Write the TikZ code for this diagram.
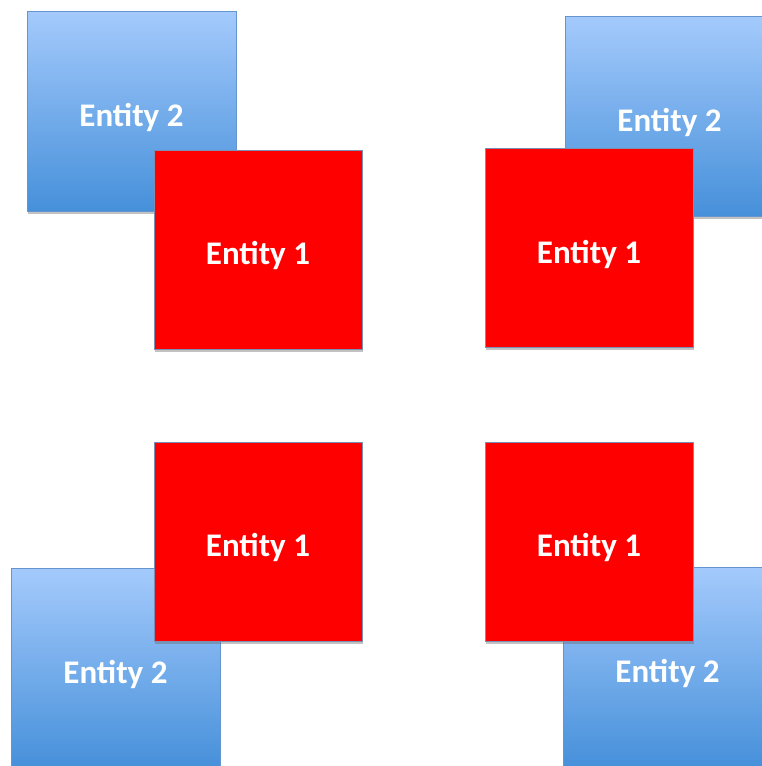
\documentclass[tikz,border=0pt]{standalone}
\usepackage{fontspec}
\setmainfont{Carlito}
\usetikzlibrary{shadows}
\definecolor{bluetop}{HTML}{A4CAFC}
\definecolor{bluebot}{HTML}{4690DA}
\definecolor{blueedge}{HTML}{6495CF}
\definecolor{rededge}{HTML}{7D8DB3}
\tikzset{
  entity/.style={rectangle, inner sep=0pt, font=\bfseries\fontsize{33}{40}\selectfont, text=white,
    text height=38pt, text depth=8pt,
    drop shadow={shadow xshift=0.6pt, shadow yshift=-2.5pt, opacity=0.4, fill=black!60}},
  second/.style={entity, minimum width=209pt, minimum height=200pt,
    draw=blueedge, line width=0.8pt, top color=bluetop, bottom color=bluebot},
  first/.style={entity, minimum width=208pt, minimum height=199pt,
    draw=rededge, line width=0.8pt, fill=red},
}
\begin{document}
\begin{tikzpicture}[x=1pt, y=-1pt]
  \useasboundingbox (0,0) rectangle (762,766);
  \clip (0,0) rectangle (762,766);
  % top left pair
  \node[second] (b1) at (131.5,111) {Entity 2};
  \node[first]  (r1) at (258,249.5) {Entity 1};
  % top right pair
  \node[second] (b2) at (669.5,116) {Entity 2};
  \node[first]  (r2) at (589,248) {Entity 1};
  % bottom left pair
  \node[second] (b3) at (115.5,668) {Entity 2};
  \node[first]  (r3) at (258,541.5) {Entity 1};
  % bottom right pair
  \node[second] (b4) at (667.5,667) {Entity 2};
  \node[first]  (r4) at (589,541.5) {Entity 1};
\end{tikzpicture}
\end{document}
